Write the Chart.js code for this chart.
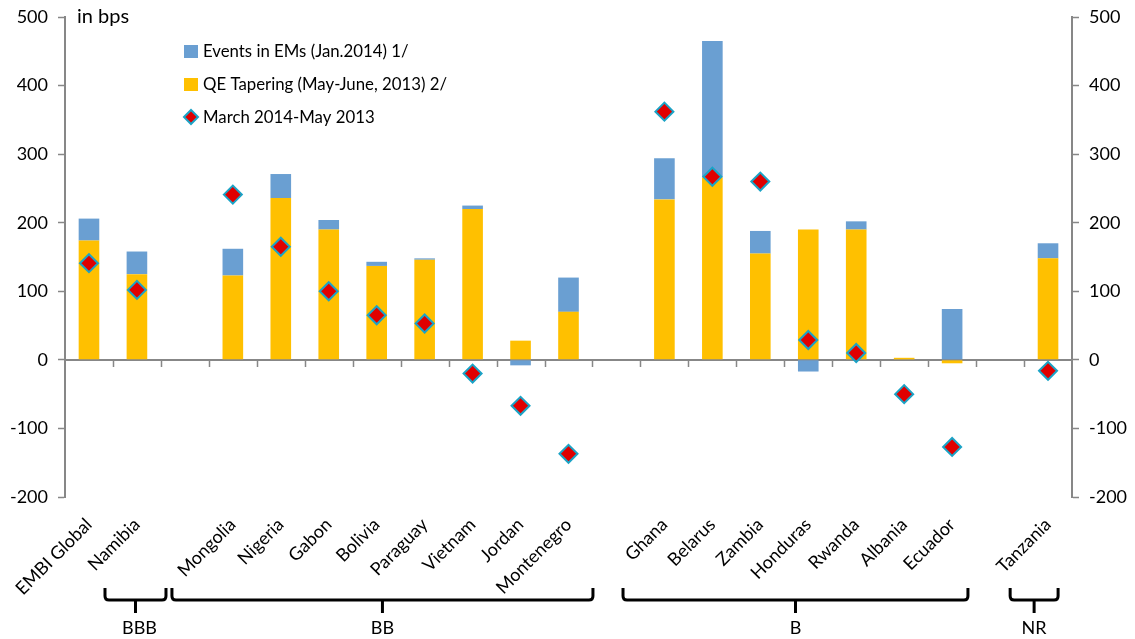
<!DOCTYPE html>
<html>
<head>
<meta charset="utf-8">
<script src="https://cdn.jsdelivr.net/npm/chart.js@4.4.1/dist/chart.umd.min.js"></script>
<style>
  html, body { margin: 0; padding: 0; background: #ffffff; }
  #wrap { width: 1135px; height: 639px; position: relative; }
</style>
</head>
<body>
<div id="wrap"><canvas id="c" width="1135" height="639"></canvas></div>
<script>
// Sovereign spread changes, in basis points
const categories = ['EMBI Global', 'Namibia', '', 'Mongolia', 'Nigeria', 'Gabon', 'Bolivia', 'Paraguay',
  'Vietnam', 'Jordan', 'Montenegro', '', 'Ghana', 'Belarus', 'Zambia', 'Honduras', 'Rwanda', 'Albania',
  'Ecuador', '', 'Tanzania'];
const qeTapering = [174, 125, null, 123, 236, 190, 137, 146, 220, 28, 70, null, 234, 266, 155, 190, 190, 3, -5, null, 148];
const emEvents   = [32, 33, null, 39, 35, 14, 6, 2, 5, -8, 50, null, 60, 199, 33, -17, 12, 0, 74, null, 22];
const marchMay   = [141, 102, null, 241, 165, 100, 65, 53, -20, -67, -137, null, 362, 267, 260, 29, 10, -50, -127, null, -16];
const yTicks = [-200, -100, 0, 100, 200, 300, 400, 500];

// Credit rating groups (first and last member)
const ratingNames = ['BBB', 'BB', 'B', 'NR'];
const ratingFirst = ['Namibia', 'Mongolia', 'Ghana', 'Tanzania'];
const ratingLast  = ['Namibia', 'Montenegro', 'Ecuador', 'Tanzania'];

const seriesNames = ['Events in EMs (Jan.2014) 1/', 'QE Tapering (May-June, 2013) 2/', 'March 2014-May 2013'];

const FONT = 'Lato, "Open Sans", sans-serif';
const BLUE = '#6A9FD2';
const GOLD = '#FFC000';
const RED = '#E00000';
const TEAL = '#1BA3C6';
const AXIS = '#878787';

function drawDiamond(ctx, x, y, r) {
  ctx.beginPath();
  ctx.moveTo(x - r, y);
  ctx.lineTo(x, y - r);
  ctx.lineTo(x + r, y);
  ctx.lineTo(x, y + r);
  ctx.closePath();
  ctx.fillStyle = RED;
  ctx.fill();
  ctx.lineWidth = 2;
  ctx.strokeStyle = TEAL;
  ctx.stroke();
}

const decorations = {
  id: 'decorations',
  beforeDatasetsDraw(chart) {
    const { ctx, chartArea, scales } = chart;
    const x = scales.x, y = scales.y;
    const y0 = Math.round(y.getPixelForValue(0));
    ctx.save();
    ctx.strokeStyle = AXIS;
    ctx.lineWidth = 2;
    ctx.beginPath();
    ctx.moveTo(chartArea.left, y0);
    ctx.lineTo(chartArea.right, y0);
    ctx.stroke();
    // tick marks between categories
    ctx.lineWidth = 1.5;
    ctx.beginPath();
    for (let i = 0; i < categories.length - 1; i++) {
      const px = Math.round(x.getPixelForValue(i + 0.5)) + 0.5;
      ctx.moveTo(px, y0);
      ctx.lineTo(px, y0 + 7);
    }
    ctx.stroke();
    ctx.restore();
  },
  afterDraw(chart) {
    const { ctx, scales } = chart;
    const x = scales.x;
    ctx.save();
    ctx.fillStyle = '#000';
    ctx.textBaseline = 'middle';

    // unit label
    ctx.font = '20px ' + FONT;
    ctx.textAlign = 'left';
    ctx.fillText('in bps', 77, 17);

    // legend
    ctx.font = '16.8px ' + FONT;
    const lx = 184, rows = [51, 84, 117];
    ctx.fillStyle = BLUE; ctx.fillRect(lx, rows[0] - 6, 14, 13);
    ctx.fillStyle = GOLD; ctx.fillRect(lx, rows[1] - 6, 14, 13);
    drawDiamond(ctx, lx + 7, rows[2], 7);
    ctx.fillStyle = '#000';
    seriesNames.forEach((t, k) => ctx.fillText(t, 203, rows[k] + 1));

    // rating brackets
    const spanLeft = [-0.666, -1.27, -0.863, -0.79];
    const spanRight = [0.606, 0.51, 0.33, 0.21];
    ctx.strokeStyle = '#000';
    ctx.lineWidth = 3;
    ctx.lineCap = 'butt';
    ctx.lineJoin = 'round';
    const top = 588, bar = 600, tip = 613, rad = 4;
    ratingNames.forEach((name, k) => {
      const a = categories.indexOf(ratingFirst[k]);
      const b = categories.indexOf(ratingLast[k]);
      const x1 = x.getPixelForValue(a + spanLeft[k]);
      const x2 = x.getPixelForValue(b + spanRight[k]);
      const xm = (x1 + x2) / 2;
      ctx.beginPath();
      ctx.moveTo(x1, top);
      ctx.lineTo(x1, bar - rad);
      ctx.quadraticCurveTo(x1, bar, x1 + rad, bar);
      ctx.lineTo(x2 - rad, bar);
      ctx.quadraticCurveTo(x2, bar, x2, bar - rad);
      ctx.lineTo(x2, top);
      ctx.stroke();
      ctx.beginPath();
      ctx.moveTo(xm, bar);
      ctx.lineTo(xm, tip);
      ctx.stroke();
      ctx.font = '18px ' + FONT;
      ctx.textAlign = 'center';
      ctx.fillStyle = '#000';
      ctx.fillText(name, xm + (k === 0 ? 4 : 0), 628);
    });
    ctx.restore();
  }
};

const yAxisCommon = {
  min: -200,
  max: 500,
  afterBuildTicks(scale) { scale.ticks = yTicks.map(v => ({ value: v })); },
  grid: { drawOnChartArea: false, drawTicks: true, tickLength: 7, color: AXIS, tickWidth: 1.5 },
  border: { display: true, color: AXIS, width: 2 },
  ticks: { color: '#000', font: { family: FONT, size: 18 }, padding: 10 }
};

new Chart(document.getElementById('c'), {
  data: {
    labels: categories,
    datasets: [
      { type: 'bar', label: seriesNames[1], data: qeTapering, backgroundColor: GOLD, stack: 'bars', order: 2,
        categoryPercentage: 1, barPercentage: 0.43 },
      { type: 'bar', label: seriesNames[0], data: emEvents, backgroundColor: BLUE, stack: 'bars', order: 2,
        categoryPercentage: 1, barPercentage: 0.43 },
      { type: 'line', label: seriesNames[2], data: marchMay, showLine: false, stack: 'points', order: 0,
        pointStyle: 'rectRot', pointRadius: 9, pointHoverRadius: 9, pointBackgroundColor: RED,
        pointBorderColor: TEAL, pointBorderWidth: 2 }
    ]
  },
  options: {
    responsive: false,
    animation: false,
    layout: { padding: { top: 17, left: 0, right: 0, bottom: 0 } },
    plugins: { legend: { display: false }, tooltip: { enabled: false } },
    scales: {
      x: {
        type: 'category',
        offset: true,
        grid: { display: false },
        border: { display: false },
        ticks: { autoSkip: false, maxRotation: 45, minRotation: 45, color: '#000',
          font: { family: FONT, size: 18 }, padding: 9 },
        afterFit(scale) { scale.height = 142; scale.paddingLeft = 0; scale.paddingRight = 0; }
      },
      y: Object.assign({}, yAxisCommon, {
        position: 'left', stacked: true,
        afterFit(scale) { scale.width = 65; scale.paddingTop = 0; scale.paddingBottom = 0; }
      }),
      y2: Object.assign({}, yAxisCommon, {
        position: 'right',
        afterFit(scale) { scale.width = 63; scale.paddingTop = 0; scale.paddingBottom = 0; }
      })
    }
  },
  plugins: [decorations]
});
</script>
</body>
</html>
